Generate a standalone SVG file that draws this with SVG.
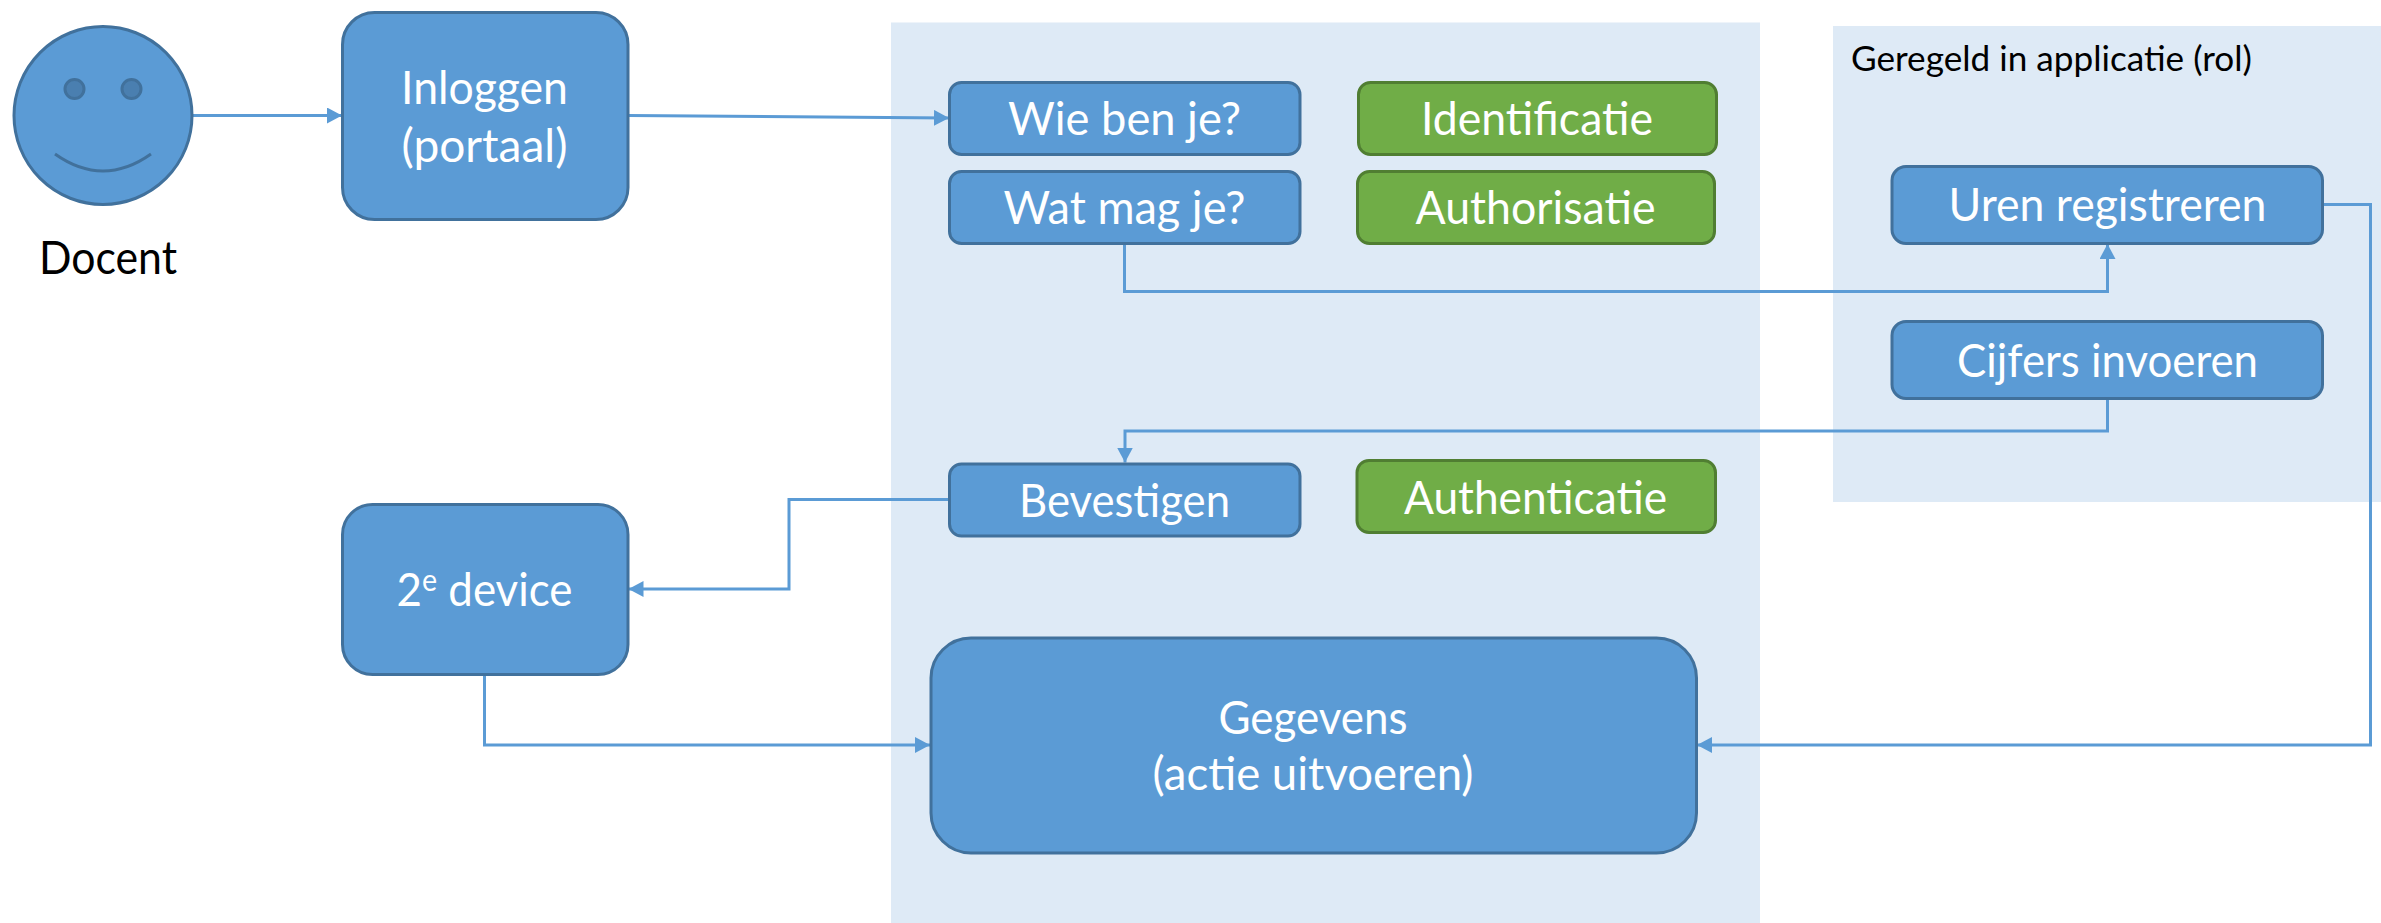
<svg xmlns="http://www.w3.org/2000/svg" width="2381" height="923" viewBox="0 0 2381 923">
<defs>
<style>
text{font-family:"Lato","Liberation Sans",sans-serif;font-size:46px;fill:#fff;text-anchor:middle}
.b{fill:#5B9BD5;stroke:#41719C;stroke-width:3}
.g{fill:#70AD47;stroke:#507E32;stroke-width:3}
.p{fill:#DEEAF6}
.c{fill:none;stroke:#5B9BD5;stroke-width:3}
.k{fill:#000}
</style>
<marker id="a" markerUnits="userSpaceOnUse" markerWidth="16" markerHeight="16" refX="15" refY="8" orient="auto"><path d="M0 0L15 8L0 16Z" fill="#5B9BD5"/></marker>
</defs>
<rect width="2381" height="923" fill="#fff"/>
<g id="panels">
<rect class="p" x="891" y="22.500" width="869" height="900.500"/>
<rect class="p" x="1833" y="26" width="548" height="476"/>
</g>
<g id="connectors">
<path class="c" marker-end="url(#a)" d="M193 115.500H342"/>
<path class="c" marker-end="url(#a)" d="M628.500 115.500L949 118"/>
<path class="c" marker-end="url(#a)" d="M1124.500 244V291.500H2107.500V244"/>
<path class="c" marker-end="url(#a)" d="M2107.500 399V431H1125V462.500"/>
<path class="c" marker-end="url(#a)" d="M949.500 499.500H789V589H628.500"/>
<path class="c" marker-end="url(#a)" d="M484.500 675V745H930"/>
<path class="c" marker-end="url(#a)" d="M2323.500 204.500H2370.500V745H1697"/>
</g>
<g id="docent">
<circle class="b" cx="103" cy="115.500" r="89"/>
<ellipse cx="74.500" cy="89" rx="9.500" ry="9.500" fill="#4A7FB0" stroke="#41719C" stroke-width="3"/>
<ellipse cx="131.500" cy="89" rx="9.500" ry="9.500" fill="#4A7FB0" stroke="#41719C" stroke-width="3"/>
<path d="M55 154Q103 188 151 154" fill="none" stroke="#41719C" stroke-width="3"/>
<text class="k" x="108" y="274" textLength="138" lengthAdjust="spacingAndGlyphs">Docent</text>
</g>
<g id="inloggen"><rect class="b" x="342.500" y="12.500" width="285.500" height="207" rx="32"/><text x="484.500" y="103.500" textLength="167" lengthAdjust="spacingAndGlyphs">Inloggen</text><text x="484.500" y="162" textLength="166" lengthAdjust="spacingAndGlyphs">(portaal)</text></g>
<g id="wie"><rect class="b" x="949.500" y="82.500" width="350.500" height="72" rx="12"/><text x="1124.500" y="135" textLength="233" lengthAdjust="spacingAndGlyphs">Wie ben je?</text></g>
<g id="wat"><rect class="b" x="949.500" y="171.500" width="350.500" height="72" rx="12"/><text x="1124.500" y="224" textLength="242" lengthAdjust="spacingAndGlyphs">Wat mag je?</text></g>
<g id="identificatie"><rect class="g" x="1358.500" y="82.500" width="358" height="72" rx="12"/><text x="1537" y="135" textLength="232" lengthAdjust="spacingAndGlyphs">Identificatie</text></g>
<g id="authorisatie"><rect class="g" x="1357.500" y="171.500" width="357" height="72" rx="12"/><text x="1535.500" y="224" textLength="240" lengthAdjust="spacingAndGlyphs">Authorisatie</text></g>
<g id="bevestigen"><rect class="b" x="949.500" y="464" width="350.500" height="72" rx="12"/><text x="1124.500" y="516.500" textLength="211" lengthAdjust="spacingAndGlyphs">Bevestigen</text></g>
<g id="authenticatie"><rect class="g" x="1357" y="460.500" width="358.500" height="72" rx="12"/><text x="1535.500" y="513.500" textLength="263" lengthAdjust="spacingAndGlyphs">Authenticatie</text></g>
<g id="device"><rect class="b" x="342.500" y="504.500" width="285.500" height="170" rx="30"/><text x="484.500" y="605.500" textLength="176" lengthAdjust="spacingAndGlyphs">2<tspan font-size="30" dy="-15">e</tspan><tspan dy="15"> device</tspan></text></g>
<g id="gegevens"><rect class="b" x="931" y="638" width="765.500" height="215" rx="40"/><text x="1313" y="733.500" textLength="189" lengthAdjust="spacingAndGlyphs">Gegevens</text><text x="1313" y="789.500" textLength="321" lengthAdjust="spacingAndGlyphs">(actie uitvoeren)</text></g>
<g id="app-label"><text class="k" x="1851" y="71" textLength="401" lengthAdjust="spacingAndGlyphs" style="font-size:34px;text-anchor:start">Geregeld in applicatie (rol)</text></g>
<g id="uren"><rect class="b" x="1892" y="166.500" width="430.500" height="77" rx="14"/><text x="2107.500" y="221" textLength="318" lengthAdjust="spacingAndGlyphs">Uren registreren</text></g>
<g id="cijfers"><rect class="b" x="1892" y="321.500" width="430.500" height="77" rx="14"/><text x="2107.500" y="377" textLength="301" lengthAdjust="spacingAndGlyphs">Cijfers invoeren</text></g>
</svg>
